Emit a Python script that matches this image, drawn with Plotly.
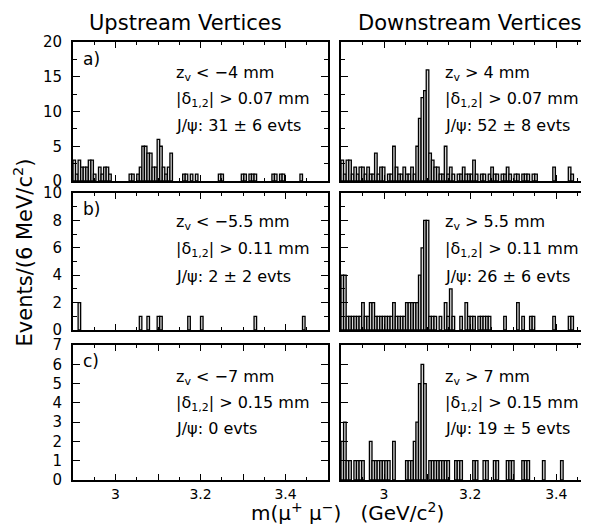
import plotly.graph_objects as go

# ---------------- data (6 MeV bins from 2.9 GeV) ----------------
bin_lo = 2.9
bin_w = 0.006
n_bins = 100
mass_centers = [round(bin_lo + bin_w * (i + 0.5), 4) for i in range(n_bins)]

# a) upstream  (z_v < -4 mm, |d| > 0.07 mm)
up_a = [3, 1, 3, 2, 2, 2, 3, 3, 1, 0,
        2, 1, 2, 2, 1, 0, 0, 0, 0, 0,
        0, 0, 1, 1, 0, 1, 2, 5, 5, 4,
        4, 2, 2, 6, 5, 2, 1, 2, 4, 0,
        0, 0, 0, 1, 1, 0, 1, 0, 1, 0,
        0, 0, 0, 0, 0, 0, 0, 1, 1, 0,
        0, 0, 0, 0, 0, 0, 1, 1, 0, 1,
        1, 1, 0, 0, 0, 0, 0, 0, 1, 1,
        0, 1, 1, 0, 0, 0, 0, 0, 0, 1,
        0, 0, 0, 0, 0, 0, 0, 0, 0, 0]
# a) downstream (z_v > 4 mm)
down_a = [3, 1, 3, 3, 1, 2, 1, 2, 2, 1,
          2, 1, 1, 4, 1, 2, 2, 0, 1, 1,
          5, 2, 1, 1, 2, 1, 1, 2, 1, 5,
          9, 12, 13, 16, 4, 3, 2, 2, 1, 1,
          5, 1, 2, 1, 0, 1, 1, 2, 1, 1,
          1, 3, 1, 0, 1, 1, 0, 1, 2, 1,
          1, 0, 1, 1, 2, 1, 0, 1, 1, 0,
          1, 1, 1, 0, 1, 1, 0, 0, 0, 0,
          0, 0, 2, 0, 0, 0, 0, 0, 2, 1,
          0, 0, 0, 0, 0, 0, 0, 0, 0, 0]
# b) upstream (z_v < -5.5 mm)
up_b = [0, 0, 2, 0, 0, 0, 0, 0, 0, 0,
        0, 0, 0, 0, 0, 0, 0, 0, 0, 0,
        0, 0, 0, 0, 0, 0, 1, 0, 0, 1,
        0, 0, 0, 1, 1, 0, 0, 0, 0, 0,
        0, 0, 0, 0, 0, 1, 0, 0, 0, 0,
        1, 0, 0, 0, 0, 0, 0, 0, 0, 0,
        0, 0, 0, 0, 0, 0, 0, 0, 0, 0,
        0, 1, 0, 0, 0, 0, 0, 0, 0, 0,
        0, 0, 0, 0, 0, 0, 0, 0, 0, 0,
        1, 0, 0, 0, 0, 0, 0, 0, 0, 0]
# b) downstream (z_v > 5.5 mm)
down_b = [4, 4, 1, 1, 1, 1, 1, 1, 2, 1,
          1, 2, 2, 1, 1, 1, 1, 1, 1, 1,
          2, 1, 1, 1, 1, 2, 2, 2, 2, 2,
          4, 6, 8, 8, 1, 1, 1, 0, 1, 0,
          2, 1, 3, 1, 0, 0, 1, 0, 2, 1,
          1, 1, 0, 1, 1, 1, 1, 1, 0, 0,
          0, 0, 0, 1, 0, 0, 0, 0, 2, 0,
          1, 0, 0, 1, 1, 0, 0, 0, 0, 0,
          0, 0, 1, 0, 0, 0, 0, 0, 1, 1,
          0, 0, 0, 0, 0, 0, 1, 0, 0, 0]
# c) upstream (z_v < -7 mm): empty
up_c = [0] * 100
# c) downstream (z_v > 7 mm)
down_c = [2, 3, 1, 1, 0, 1, 1, 1, 1, 0,
          0, 2, 1, 1, 1, 1, 1, 1, 1, 0,
          2, 0, 0, 0, 0, 1, 1, 1, 2, 3,
          5, 6, 5, 0, 1, 1, 1, 1, 1, 1,
          1, 1, 0, 0, 1, 1, 1, 0, 0, 0,
          0, 1, 1, 0, 0, 1, 1, 0, 0, 1,
          1, 0, 0, 0, 1, 1, 1, 0, 0, 0,
          1, 1, 1, 0, 0, 0, 0, 0, 1, 0,
          0, 0, 0, 0, 0, 1, 0, 0, 0, 0,
          0, 0, 0, 0, 0, 0, 0, 0, 0, 0]

SUB = "<sub><span style='font-size:11px'>{}</span></sub>"
panel_counts = [up_a, down_a, up_b, down_b, up_c, down_c]
panel_letters = ["a)", "", "b)", "", "c)", ""]
cut_zv = ["z" + SUB.format("v") + " < −4 mm", "z" + SUB.format("v") + " > 4 mm",
          "z" + SUB.format("v") + " < −5.5 mm", "z" + SUB.format("v") + " > 5.5 mm",
          "z" + SUB.format("v") + " < −7 mm", "z" + SUB.format("v") + " > 7 mm"]
cut_delta = ["|δ" + SUB.format("1,2") + "| > " + v + " mm"
             for v in ["0.07", "0.07", "0.11", "0.11", "0.15", "0.15"]]
jpsi_yield = ["J/ψ: 31 ± 6 evts", "J/ψ: 52 ± 8 evts",
              "J/ψ: 2 ± 2 evts", "J/ψ: 26 ± 6 evts",
              "J/ψ: 0 evts", "J/ψ: 19 ± 5 evts"]
col_titles = ["Upstream Vertices", "Downstream Vertices"]
row_ymax = [20, 10, 7]
row_dtick = [5, 2, 1]
row_minor = [2.5, 1, None]
x_tickvals = [3.0, 3.1, 3.2, 3.3, 3.4]
x_ticktext = ["3", "", "3.2", "", "3.4"]

# ---------------- layout geometry ----------------
W, H = 589, 531
ML, MR, MT, MB = 65, 0, 34, 59
FONT = "DejaVu Sans, Verdana, sans-serif"

x_domains = [[0.0, 0.4885], [0.5134, 1.0]]
y_domains = [[0.6826, 1.0], [0.3425, 0.6553], [0.0, 0.3082]]
x_ranges = [[2.9, 3.5], [2.9, 3.49]]

fig = go.Figure()
layout = dict(
    width=W, height=H,
    margin=dict(l=ML, r=MR, t=MT, b=MB),
    paper_bgcolor="white", plot_bgcolor="white",
    showlegend=False, barmode="overlay",
    font=dict(family=FONT, color="black", size=15),
)
annotations = []

for p in range(6):
    r, c = divmod(p, 2)
    n = p + 1
    xa = "x" if n == 1 else f"x{n}"
    ya = "y" if n == 1 else f"y{n}"
    xs = [mass_centers[i] for i in range(n_bins) if panel_counts[p][i] > 0]
    ys = [panel_counts[p][i] for i in range(n_bins) if panel_counts[p][i] > 0]
    fig.add_trace(go.Bar(
        x=xs, y=ys, width=bin_w, xaxis=xa, yaxis=ya,
        marker=dict(color="#d8d8d8", line=dict(color="black", width=1.3)),
        hoverinfo="x+y",
    ))
    xkey = "xaxis" if n == 1 else f"xaxis{n}"
    ykey = "yaxis" if n == 1 else f"yaxis{n}"
    layout[xkey] = dict(
        domain=x_domains[c], range=x_ranges[c], anchor=ya,
        showline=True, linecolor="black", linewidth=1.8, mirror="allticks",
        ticks="inside", ticklen=6, tickwidth=1.2, tickcolor="black",
        tickvals=x_tickvals, ticktext=x_ticktext,
        showticklabels=(r == 2), showgrid=False, zeroline=False,
        tickfont=dict(size=14, family=FONT),
        minor=dict(dtick=0.05, tick0=2.9, ticks="inside", ticklen=3,
                   tickcolor="black", tickwidth=1, showgrid=False),
    )
    ydict = dict(
        domain=y_domains[r], range=[0, row_ymax[r]], anchor=xa,
        showline=True, linecolor="black", linewidth=1.8, mirror="allticks",
        ticks="inside", ticklen=7, tickwidth=1.2, tickcolor="black",
        dtick=row_dtick[r], tick0=0, ticklabelstandoff=6,
        showticklabels=(c == 0), showgrid=False, zeroline=False,
        tickfont=dict(size=15, family=FONT),
    )
    if row_minor[r]:
        ydict["minor"] = dict(dtick=row_minor[r], ticks="inside", ticklen=4,
                              tickcolor="black", tickwidth=1, showgrid=False)
    layout[ykey] = ydict

    dx = f"{xa} domain"
    dy = f"{ya} domain"
    if panel_letters[p]:
        annotations.append(dict(xref=dx, yref=dy, x=0.03, y=0.88,
                                text=panel_letters[p], showarrow=False,
                                xanchor="left", yanchor="middle",
                                font=dict(size=17, family=FONT)))
    tx = 0.398 if c == 0 else 0.40
    line_y = [[0.777, 0.583, 0.398], [0.781, 0.584, 0.394], [0.763, 0.570, 0.378]][r]
    for txt, yy in zip([cut_zv[p], cut_delta[p], jpsi_yield[p]], line_y):
        annotations.append(dict(xref=dx, yref=dy, x=tx, y=yy, text=txt,
                                showarrow=False, xanchor="left", yanchor="middle",
                                font=dict(size=16, family=FONT)))

# column titles
for c, t in enumerate(col_titles):
    xc = 0.215 if c == 0 else 0.76
    annotations.append(dict(xref="paper", yref="paper", x=xc, y=1.043, text=t,
                            showarrow=False, xanchor="center", yanchor="middle",
                            font=dict(size=21, family=FONT)))
# axis titles
annotations.append(dict(xref="paper", yref="paper", x=-0.0954, y=0.52,
                        text="Events/(6 MeV/c<sup>2</sup>)", textangle=-90,
                        showarrow=False, xanchor="center", yanchor="middle",
                        font=dict(size=21, family=FONT)))
annotations.append(dict(xref="paper", yref="paper", x=0.525, y=-0.072,
                        text="m(μ<sup>+</sup> μ<sup>−</sup>)   (GeV/c<sup>2</sup>)",
                        showarrow=False, xanchor="center", yanchor="middle",
                        font=dict(size=20, family=FONT)))
layout["annotations"] = annotations
fig.update_layout(**layout)
fig.write_html("out.html")
